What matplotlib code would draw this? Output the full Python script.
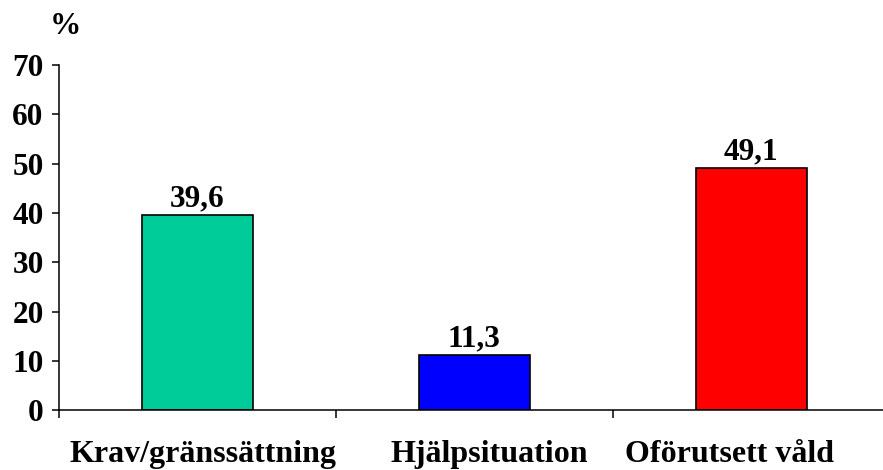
import matplotlib.pyplot as plt
from matplotlib.transforms import ScaledTranslation

categories = ["Krav/gränssättning", "Hjälpsituation", "Oförutsett våld"]
values = [39.6, 11.3, 49.1]
colors = ["#00CC99", "#0000FF", "#FF0000"]
yticks = [0, 10, 20, 30, 40, 50, 60, 70]

plt.rcParams["font.family"] = ["Liberation Serif", "DejaVu Serif"]
plt.rcParams["font.weight"] = "bold"
FS = 22.5

fig = plt.figure(figsize=(8.83, 4.70), dpi=100)
ax = fig.add_axes([0.0668, 0.1266, 0.941, 0.735])

x = list(range(len(categories)))
bars = ax.bar(x, values, width=0.4, color=colors, edgecolor="black", linewidth=1.2, zorder=2)

for xi, v in zip(x, values):
    ax.annotate(f"{v:.1f}".replace(".", ","), (xi, v), xytext=(0, 1),
                textcoords="offset points", ha="center", va="bottom",
                fontsize=FS, fontweight="bold")

ax.set_xlim(-0.5, 2.5)
ax.set_ylim(0, 70)
ax.set_yticks(yticks)
ax.set_yticklabels([str(t) for t in yticks], fontsize=FS, fontweight="bold")

# category labels at centers, tick marks between categories
ax.set_xticks(x)
ax.set_xticklabels(categories, fontsize=23, fontweight="bold")
ax.set_xticks([-0.5, 0.5, 1.5, 2.5], minor=True)
ax.tick_params(axis="x", which="major", length=0, pad=21.5)
ax.tick_params(axis="x", which="minor", length=6, width=1.1, direction="out")
ax.tick_params(axis="y", length=5, width=1.1, direction="out", pad=6)

# nudge the category labels sideways (pixels)
shifts = [6, 15, -22]
for lab, dx in zip(ax.get_xticklabels(), shifts):
    lab.set_transform(lab.get_transform() + ScaledTranslation(dx / 100, 0, fig.dpi_scale_trans))

for side in ["top", "right"]:
    ax.spines[side].set_visible(False)
for side in ["left", "bottom"]:
    ax.spines[side].set_linewidth(1.1)

fig.text(0.074, 0.943, "%", ha="center", va="center", fontsize=FS, fontweight="bold")

fig.savefig("out.png", dpi=100)
